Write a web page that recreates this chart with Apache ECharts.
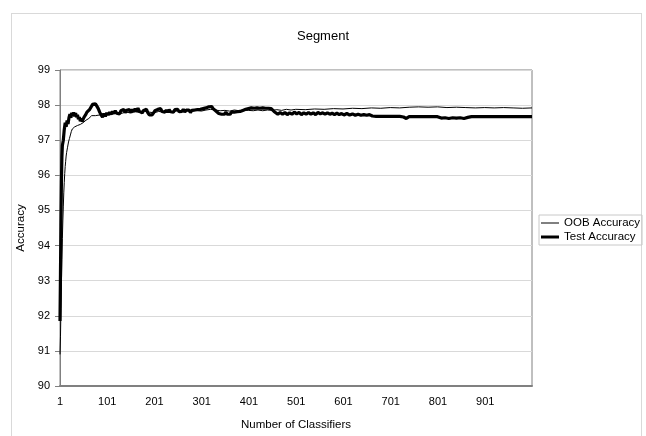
<!DOCTYPE html>
<html>
<head>
<meta charset="utf-8">
<script src="https://cdn.jsdelivr.net/npm/echarts@6/dist/echarts.min.js"></script>
<style>
  html, body { margin: 0; padding: 0; background: #fff; }
  #wrap { position: relative; width: 646px; height: 436px; overflow: hidden; }
  #frame { position: absolute; left: 11px; top: 13px; width: 629px; height: 440px; border: 1px solid #d9d9d9; }
  #chart { position: absolute; left: 0; top: 0; width: 646px; height: 436px; }
</style>
</head>
<body>
<div id="wrap">
  <div id="frame"></div>
  <div id="chart"></div>
</div>
<script>
// x tick labels (number of classifiers)
var xTicks = [1, 101, 201, 301, 401, 501, 601, 701, 801, 901];

// [number of classifiers, accuracy %]
var oobAccuracy = [
  [1, 90.9], [2, 91.4], [3, 92.2], [4, 92.9], [5, 93.6], [6, 94.2], [7, 94.7], [8, 95.1], [9, 95.5], [10, 95.8],
  [11, 96.05], [12, 96.25], [13, 96.4], [14, 96.55], [15, 96.65], [17, 96.8], [19, 96.95], [21, 97.05], [23, 97.15],
  [25, 97.25], [27, 97.32], [29, 97.37], [32, 97.38], [35, 97.4], [38, 97.42], [41, 97.41], [44, 97.45], [47, 97.48],
  [50, 97.5], [53, 97.53], [56, 97.57], [59, 97.6], [62, 97.62], [65, 97.66], [68, 97.7], [72, 97.72], [76, 97.7],
  [80, 97.74], [85, 97.72], [90, 97.75], [95, 97.73], [100, 97.76], [110, 97.74], [120, 97.78], [130, 97.76],
  [140, 97.8], [150, 97.78], [160, 97.81], [170, 97.79], [180, 97.82], [190, 97.8], [200, 97.78], [210, 97.82],
  [220, 97.8], [230, 97.83], [240, 97.81], [250, 97.84], [260, 97.82], [270, 97.84], [280, 97.82], [290, 97.85],
  [300, 97.83], [310, 97.86], [320, 97.88], [330, 97.86], [340, 97.84], [350, 97.85], [360, 97.83], [370, 97.86],
  [380, 97.84], [390, 97.86], [400, 97.85], [410, 97.84], [420, 97.86], [430, 97.84], [440, 97.86], [450, 97.85],
  [460, 97.87], [470, 97.85], [480, 97.88], [490, 97.86], [500, 97.88], [520, 97.87], [540, 97.89], [560, 97.88],
  [580, 97.9], [600, 97.89], [620, 97.91], [640, 97.9], [660, 97.92], [680, 97.91], [700, 97.93], [720, 97.92],
  [740, 97.94], [760, 97.95], [780, 97.94], [800, 97.95], [820, 97.93], [840, 97.94], [860, 97.93], [880, 97.92],
  [900, 97.93], [920, 97.92], [940, 97.93], [960, 97.92], [980, 97.91], [1000, 97.92]
];

var testAccuracy = [
  [1, 91.85], [2, 93.2], [3, 94.6], [4, 95.8], [5, 96.5], [6, 96.85], [8, 97.0], [10, 97.3], [12, 97.5], [14, 97.38],
  [16, 97.56], [18, 97.46], [20, 97.64], [22, 97.74], [24, 97.64], [26, 97.78], [28, 97.7], [30, 97.79], [32, 97.68],
  [34, 97.77], [36, 97.66], [38, 97.72], [40, 97.6], [42, 97.66], [44, 97.54], [46, 97.62], [48, 97.53], [50, 97.6],
  [52, 97.66], [55, 97.72], [58, 97.8], [61, 97.8], [64, 97.88], [67, 97.93], [70, 98.02], [73, 97.98], [76, 98.04],
  [79, 97.97], [82, 97.9], [85, 97.8], [88, 97.72], [91, 97.66], [94, 97.76], [97, 97.68], [100, 97.78],
  [103, 97.72], [106, 97.8], [109, 97.74], [112, 97.82], [115, 97.76], [118, 97.84], [121, 97.77], [124, 97.82],
  [127, 97.75], [130, 97.84], [133, 97.8], [136, 97.88], [139, 97.79], [142, 97.85], [145, 97.8], [148, 97.87],
  [151, 97.79], [154, 97.88], [157, 97.82], [160, 97.9], [163, 97.83], [166, 97.91], [169, 97.82], [172, 97.86],
  [175, 97.78], [178, 97.85], [181, 97.8], [184, 97.88], [187, 97.78], [190, 97.72], [193, 97.68], [196, 97.72],
  [199, 97.78], [202, 97.84], [205, 97.8], [208, 97.88], [211, 97.83], [214, 97.9], [217, 97.82], [220, 97.87],
  [223, 97.8], [226, 97.86], [229, 97.8], [232, 97.87], [235, 97.81], [238, 97.86], [241, 97.8], [244, 97.87],
  [247, 97.82], [250, 97.88], [253, 97.81], [256, 97.86], [259, 97.82], [262, 97.88], [265, 97.8], [268, 97.86],
  [271, 97.82], [274, 97.86], [277, 97.79], [280, 97.85], [283, 97.8], [286, 97.86], [289, 97.81], [292, 97.87],
  [295, 97.82], [298, 97.88], [301, 97.84], [304, 97.9], [307, 97.86], [310, 97.92], [313, 97.9], [316, 97.95],
  [319, 97.92], [322, 97.96], [325, 97.9], [328, 97.88], [331, 97.83], [334, 97.8], [337, 97.76], [340, 97.8],
  [343, 97.74], [346, 97.79], [349, 97.74], [352, 97.8], [355, 97.74], [358, 97.79], [361, 97.74], [364, 97.8],
  [367, 97.75], [370, 97.8], [373, 97.76], [376, 97.81], [379, 97.76], [382, 97.82], [385, 97.8], [388, 97.85],
  [391, 97.83], [394, 97.88], [397, 97.86], [400, 97.9], [403, 97.87], [406, 97.92], [409, 97.87], [412, 97.91],
  [415, 97.88], [418, 97.92], [421, 97.87], [424, 97.91], [427, 97.87], [430, 97.92], [433, 97.88], [436, 97.91],
  [439, 97.87], [442, 97.91], [445, 97.88], [448, 97.9], [451, 97.86], [454, 97.82], [457, 97.78], [462, 97.74],
  [467, 97.79], [472, 97.74], [477, 97.79], [482, 97.73], [487, 97.78], [492, 97.74], [497, 97.8], [502, 97.75],
  [507, 97.79], [512, 97.73], [517, 97.78], [522, 97.74], [527, 97.79], [532, 97.74], [537, 97.78], [542, 97.73],
  [547, 97.79], [552, 97.75], [557, 97.78], [562, 97.74], [567, 97.78], [572, 97.74], [577, 97.77], [582, 97.73],
  [587, 97.77], [592, 97.73], [597, 97.76], [602, 97.72], [608, 97.76], [614, 97.72], [620, 97.75], [626, 97.71],
  [632, 97.74], [638, 97.71], [644, 97.73], [650, 97.71], [656, 97.73], [662, 97.69], [670, 97.68], [680, 97.68],
  [690, 97.68], [700, 97.68], [710, 97.68], [720, 97.68], [728, 97.66], [734, 97.62], [740, 97.67], [760, 97.67],
  [780, 97.67], [800, 97.67], [808, 97.63], [816, 97.64], [824, 97.62], [832, 97.64], [840, 97.63], [848, 97.64],
  [856, 97.62], [864, 97.65], [872, 97.67], [880, 97.67], [900, 97.67], [920, 97.67], [940, 97.67], [960, 97.67],
  [980, 97.67], [1000, 97.67]
];

var font = "'Liberation Sans', Arial, sans-serif";

var chart = echarts.init(document.getElementById('chart'), null, { renderer: 'canvas' });
chart.setOption({
  animation: false,
  textStyle: { fontFamily: font, color: '#000' },
  title: {
    text: 'Segment',
    left: 'center',
    top: 25,
    textStyle: { fontFamily: font, fontSize: 13, fontWeight: 'normal', color: '#000' }
  },
  legend: {
    orient: 'vertical',
    left: 539,
    top: 215,
    padding: [2, 2, 2, 2],
    itemWidth: 18,
    itemHeight: 12,
    itemGap: 2,
    borderColor: '#c8c8c8',
    borderWidth: 1,
    textStyle: { fontFamily: font, fontSize: 11.5, color: '#000' },
    data: [
      { name: 'OOB Accuracy', icon: 'path://M0,0L18,0L18,1L0,1Z' },
      { name: 'Test Accuracy', icon: 'path://M0,0L18,0L18,3L0,3Z' }
    ]
  },
  grid: {
    left: 60, top: 70, width: 472, height: 322,
    show: true, borderColor: '#808080', borderWidth: 1
  },
  xAxis: {
    type: 'value',
    min: 1,
    max: 1000,
    name: 'Number of Classifiers',
    nameLocation: 'middle',
    nameGap: 33,
    nameTextStyle: { fontFamily: font, fontSize: 11.5, color: '#000' },
    axisLine: { lineStyle: { color: '#808080', width: 2 } },
    axisTick: { show: false },
    splitLine: { show: false },
    axisLabel: { customValues: xTicks, margin: 10, fontSize: 11, color: '#000', fontFamily: font }
  },
  yAxis: {
    type: 'value',
    min: 90,
    max: 99,
    interval: 1,
    name: 'Accuracy',
    nameLocation: 'middle',
    nameGap: 31,
    nameTextStyle: { fontFamily: font, fontSize: 11.5, color: '#000' },
    axisLine: { show: true, lineStyle: { color: '#808080', width: 1 } },
    axisTick: { show: true, length: 5, lineStyle: { color: '#808080' } },
    splitLine: { lineStyle: { color: '#d9d9d9', width: 1 } },
    axisLabel: { margin: 10, fontSize: 11, color: '#000', fontFamily: font }
  },
  series: [
    {
      name: 'OOB Accuracy',
      type: 'line',
      data: oobAccuracy,
      symbol: 'none',
      itemStyle: { color: '#000' },
      lineStyle: { color: '#000', width: 1 }
    },
    {
      name: 'Test Accuracy',
      type: 'line',
      data: testAccuracy,
      symbol: 'none',
      itemStyle: { color: '#000' },
      lineStyle: { color: '#000', width: 3.2 }
    }
  ]
});
</script>
</body>
</html>
